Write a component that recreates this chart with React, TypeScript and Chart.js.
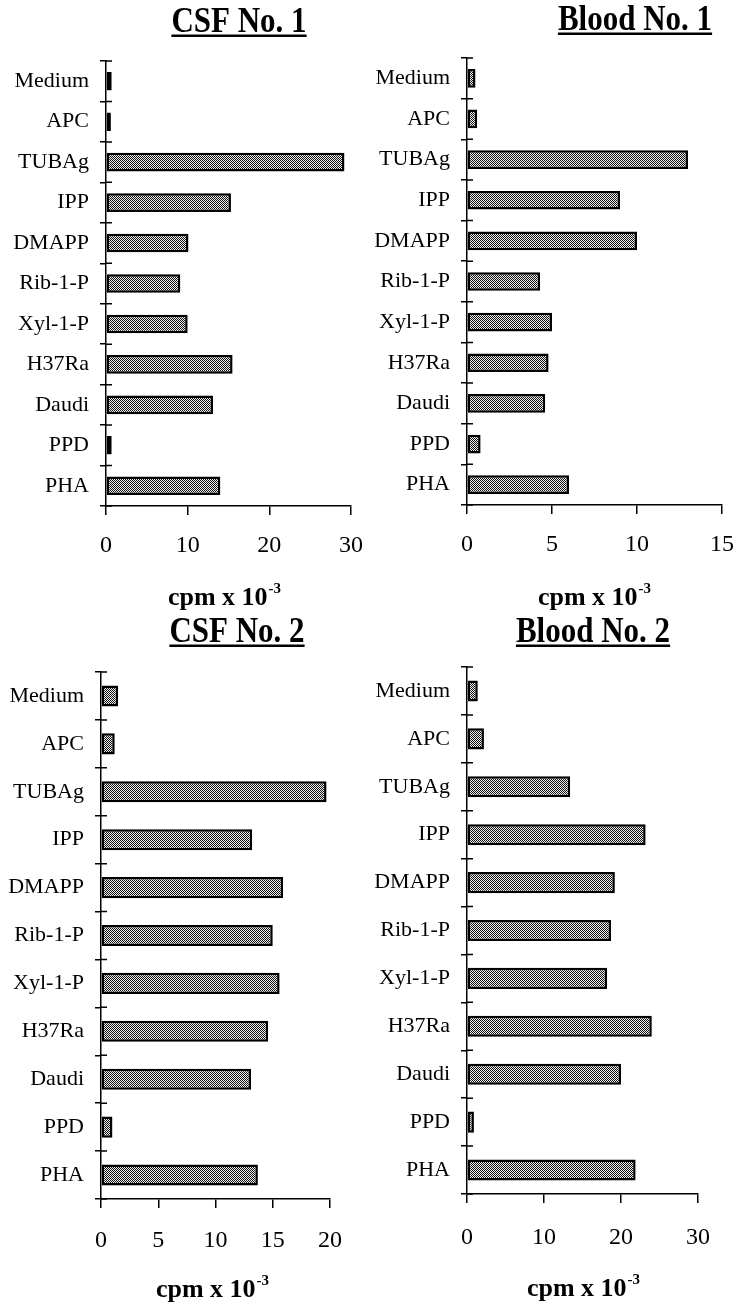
import React, { useEffect, useRef } from 'react';
import { Chart, registerables } from 'chart.js';

Chart.register(...registerables);

// ---- data ----
const categories = ['Medium', 'APC', 'TUBAg', 'IPP', 'DMAPP', 'Rib-1-P', 'Xyl-1-P', 'H37Ra', 'Daudi', 'PPD', 'PHA'];
const csf1Values = [0.7, 0.6, 29.2, 15.3, 10.1, 9.1, 10.0, 15.5, 13.1, 0.7, 14.0];
const blood1Values = [0.5, 0.6, 13.0, 9.0, 10.0, 4.3, 5.0, 4.8, 4.6, 0.8, 6.0];
const csf2Values = [1.5, 1.2, 19.7, 13.2, 15.9, 15.0, 15.6, 14.6, 13.1, 1.0, 13.7];
const blood2Values = [1.4, 2.2, 13.4, 23.2, 19.2, 18.7, 18.2, 24.0, 20.0, 0.9, 21.9];
const csf1Ticks = [0, 10, 20, 30];
const blood1Ticks = [0, 5, 10, 15];
const csf2Ticks = [0, 5, 10, 15, 20];
const blood2Ticks = [0, 10, 20, 30];
const axisTitleMain = 'cpm x 10';
const axisTitleSup = '-3';

const FONT = '"Liberation Serif", "Times New Roman", serif';

type Layout = {
  left: number; top: number; width: number; height: number;
  axisLeft: number; axisRight: number; axisTop: number; axisBottom: number;
  titleX: number; titleY: number; xTitleX: number; xTitleY: number;
  barPct: number; tickPad: number;
};

type PanelProps = { title: string; values: number[]; ticks: number[]; layout: Layout };

function makePattern(): CanvasPattern | string {
  const pc = document.createElement('canvas');
  pc.width = 4; pc.height = 4;
  const c = pc.getContext('2d');
  if (!c) return '#999';
  c.fillStyle = '#f0f0f0';
  c.fillRect(0, 0, 4, 4);
  c.fillStyle = '#111';
  for (let y = 0; y < 4; y++) for (let x = 0; x < 4; x++) if ((x + y) % 2 === 0) c.fillRect(x, y, 1, 1);
  return c.createPattern(pc, 'repeat') || '#999';
}

function Panel({ title, values, ticks, layout }: PanelProps) {
  const ref = useRef<HTMLCanvasElement>(null);
  useEffect(() => {
    if (!ref.current) return;
    const L = layout;
    const textPlugin = {
      id: 'panelText',
      afterDraw(chart: any) {
        const ctx = chart.ctx;
        ctx.save();
        ctx.fillStyle = '#000';
        // title with underline (slightly tall, as printed)
        ctx.font = `bold 31px ${FONT}`;
        ctx.textBaseline = 'alphabetic';
        ctx.textAlign = 'left';
        const tw = ctx.measureText(title).width;
        const tx = L.titleX - tw / 2;
        ctx.save();
        ctx.translate(0, L.titleY);
        ctx.scale(1, 1.15);
        ctx.fillText(title, tx, 0);
        ctx.restore();
        ctx.fillRect(tx, L.titleY + 2.5, tw, 2.5);
        // axis title with superscript
        ctx.font = `bold 26px ${FONT}`;
        const w1 = ctx.measureText(axisTitleMain).width;
        ctx.font = `bold 15px ${FONT}`;
        const w2 = ctx.measureText(axisTitleSup).width;
        const sx = L.xTitleX - (w1 + w2) / 2;
        ctx.font = `bold 26px ${FONT}`;
        ctx.fillText(axisTitleMain, sx, L.xTitleY);
        ctx.font = `bold 15px ${FONT}`;
        ctx.fillText(axisTitleSup, sx + w1 + 1, L.xTitleY - 12);
        // inner half of category ticks (crossing the axis)
        const ys = chart.scales.y;
        const n = categories.length;
        const ca = chart.chartArea;
        ctx.strokeStyle = '#000';
        ctx.lineWidth = 1.5;
        ctx.beginPath();
        for (let i = 0; i <= n; i++) {
          const y = ys.top + (i * (ys.bottom - ys.top)) / n;
          ctx.moveTo(ca.left, y);
          ctx.lineTo(ca.left + 6, y);
        }
        ctx.stroke();
        ctx.restore();
      },
    };
    const chart = new Chart(ref.current, {
      type: 'bar',
      data: {
        labels: categories,
        datasets: [
          {
            data: values,
            backgroundColor: makePattern() as any,
            borderColor: '#000',
            borderWidth: 2.5,
            borderSkipped: false,
            barPercentage: L.barPct,
            categoryPercentage: 1,
          },
        ],
      },
      options: {
        indexAxis: 'y',
        animation: false,
        responsive: false,
        devicePixelRatio: 1,
        layout: {
          padding: {
            left: 0,
            top: L.axisTop - L.top,
            right: L.left + L.width - L.axisRight,
            bottom: 0,
          },
        },
        plugins: { legend: { display: false }, title: { display: false }, tooltip: { enabled: false } },
        scales: {
          x: {
            type: 'linear',
            min: ticks[0],
            max: ticks[ticks.length - 1],
            afterBuildTicks: (s: any) => { s.ticks = ticks.map((v) => ({ value: v })); },
            afterFit: (s: any) => {
              s.height = L.top + L.height - L.axisBottom;
              s.paddingLeft = 0;
              s.paddingRight = 0;
            },
            grid: { drawOnChartArea: false, drawTicks: true, tickLength: 9, color: '#000', lineWidth: 1.5 },
            border: { display: true, color: '#000', width: 1.5 },
            ticks: { color: '#000', font: { family: FONT, size: 24 }, padding: L.tickPad, maxRotation: 0, autoSkip: false },
          },
          y: {
            type: 'category',
            afterFit: (s: any) => {
              s.width = L.axisLeft - L.left;
              s.paddingTop = 0;
              s.paddingBottom = 0;
            },
            grid: { offset: true, drawOnChartArea: false, drawTicks: true, tickLength: 6, color: '#000', lineWidth: 1.5 },
            border: { display: true, color: '#000', width: 1.5 },
            ticks: { color: '#000', font: { family: FONT, size: 22 }, padding: 11, autoSkip: false },
          },
        },
      },
      plugins: [textPlugin],
    } as any);
    return () => chart.destroy();
  }, [title, values, ticks, layout]);
  return (
    <canvas
      ref={ref}
      width={layout.width}
      height={layout.height}
      style={{ position: 'absolute', left: layout.left, top: layout.top, width: layout.width, height: layout.height }}
    />
  );
}

const layouts: Record<string, Layout> = {
  csf1: { left: 0, top: 0, width: 368, height: 614, axisLeft: 106, axisRight: 351, axisTop: 61, axisBottom: 506, titleX: 239, titleY: 32, xTitleX: 224, xTitleY: 605, barPct: 0.46, tickPad: 16 },
  blood1: { left: 368, top: 0, width: 368, height: 614, axisLeft: 467, axisRight: 722, axisTop: 58, axisBottom: 505, titleX: 267, titleY: 30, xTitleX: 226, xTitleY: 605, barPct: 0.46, tickPad: 16 },
  csf2: { left: 0, top: 614, width: 368, height: 691, axisLeft: 101, axisRight: 330, axisTop: 672, axisBottom: 1199, titleX: 237, titleY: 642 - 614, xTitleX: 212, xTitleY: 1297 - 614, barPct: 0.44, tickPad: 18 },
  blood2: { left: 368, top: 614, width: 368, height: 691, axisLeft: 467, axisRight: 698, axisTop: 667, axisBottom: 1194, titleX: 225, titleY: 642 - 614, xTitleX: 215, xTitleY: 1296 - 614, barPct: 0.44, tickPad: 20 },
};

export default function App() {
  return (
    <div style={{ position: 'absolute', left: 0, top: 0, width: 736, height: 1305, background: '#fff', overflow: 'hidden' }}>
      <Panel title="CSF No. 1" values={csf1Values} ticks={csf1Ticks} layout={layouts.csf1} />
      <Panel title="Blood No. 1" values={blood1Values} ticks={blood1Ticks} layout={layouts.blood1} />
      <Panel title="CSF No. 2" values={csf2Values} ticks={csf2Ticks} layout={layouts.csf2} />
      <Panel title="Blood No. 2" values={blood2Values} ticks={blood2Ticks} layout={layouts.blood2} />
    </div>
  );
}
